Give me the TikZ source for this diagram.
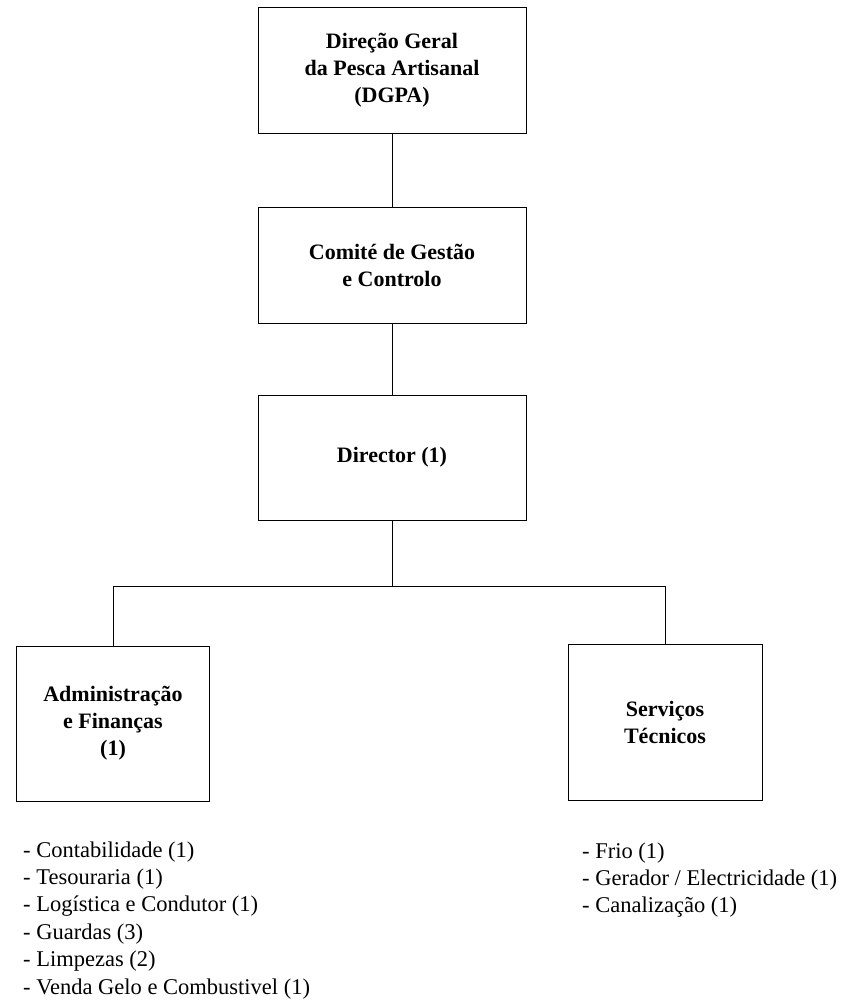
\documentclass[tikz,border=0pt]{standalone}
\usepackage{fontspec}
\setmainfont{Liberation Serif}
\usepackage{xcolor}
\usepackage{tikz}
\usetikzlibrary{shapes,arrows,positioning}

\tikzset{
    orgbox/.style={
        draw,
        rectangle,
        line width=0.8pt,
        align=center,
        inner sep=0pt,
        font=\fontsize{22}{27}\selectfont\bfseries
    },
    orglist/.style={
        align=left,
        anchor=base west,
        inner sep=0pt,
        font=\fontsize{22.5}{27.4}\selectfont
    },
    orgline/.style={
        line width=0.8pt
    }
}

\begin{document}
\begin{tikzpicture}[x=1pt,y=-1pt]
                \useasboundingbox (0,0) rectangle (848,1003);

                \node[
                    orgbox,
                    minimum width=268pt,
                    minimum height=126pt
                    ] (dgpa) at (392,70) {Direção Geral\\da Pesca Artisanal\\(DGPA)};

                \node[
                    orgbox,
                    minimum width=268pt,
                    minimum height=116pt
                    ] (comite) at (392,265) {Comité de Gestão\\e Controlo};

                \node[
                    orgbox,
                    minimum width=268pt,
                    minimum height=125pt
                    ] (director) at (392,457.5) {Director (1)};

                \node[
                    orgbox,
                    minimum width=193pt,
                    minimum height=155pt
                    ] (adm) at (113,723.5) {Administração\\e Finanças\\(1)};

                \node[
                    orgbox,
                    minimum width=194pt,
                    minimum height=156pt
                    ] (servicos) at (665,722) {Serviços\\Técnicos};

                \coordinate (bus) at (392,586);

                \draw[orgline] (dgpa) -- (comite);
                \draw[orgline] (comite) -- (director);
                \draw[orgline] (director) -- (bus);
                \draw[orgline] (bus) -| (adm.north);
                \draw[orgline] (bus) -| (servicos.north);

                % base anchor sits on the last line
                \node[orglist] (admlist) at (23,994) {- Contabilidade (1)\\- Tesouraria (1)\\- Logística e Condutor (1)\\- Guardas (3)\\- Limpezas (2)\\- Venda Gelo e Combustivel (1)};

                \node[orglist] (servlist) at (582,912.8) {- Frio (1)\\- Gerador / Electricidade (1)\\- Canalização (1)};

            \end{tikzpicture}
\end{document}
